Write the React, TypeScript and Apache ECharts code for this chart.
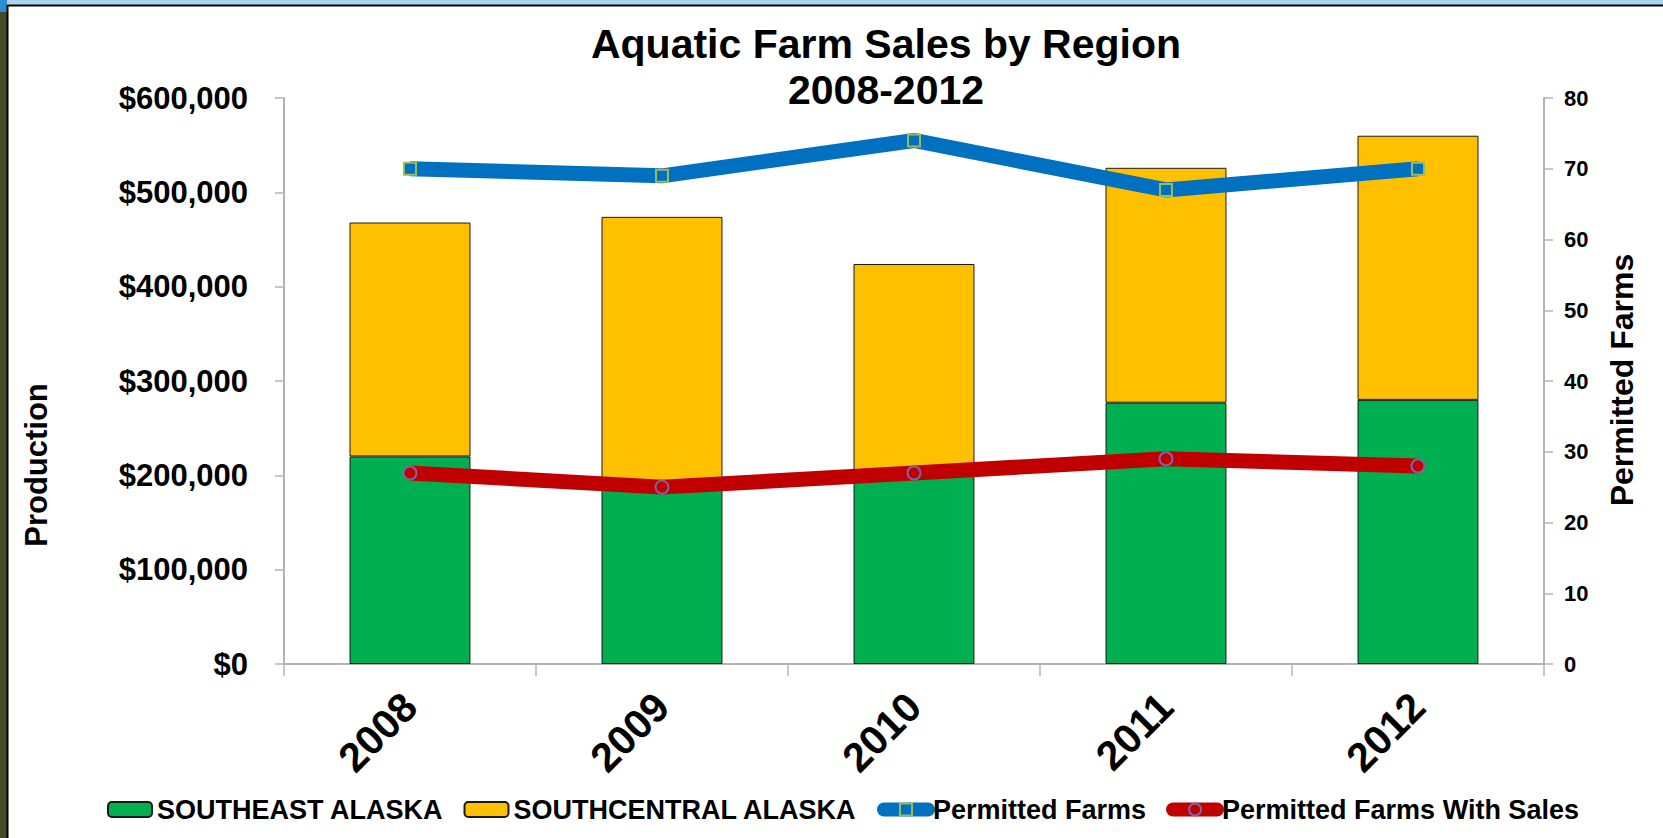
import React, { useEffect, useRef } from "react";
import * as echarts from "echarts";

const categories = ["2008", "2009", "2010", "2011", "2012"];
const southeastAlaska = [220000, 190000, 200000, 277000, 280000];
const southcentralAlaska = [248000, 284000, 224000, 249000, 280000];
const permittedFarms = [70, 69, 74, 67, 70];
const permittedFarmsWithSales = [27, 25, 27, 29, 28];

const FONT = "'Liberation Sans', Arial, sans-serif";

export default function App() {
  const ref = useRef<HTMLDivElement>(null);

  useEffect(() => {
    if (!ref.current) return;
    const chart = echarts.init(ref.current, null, { renderer: "svg" });
    const axisGray = "#b4b4b4";
    chart.setOption({
      animation: false,
      backgroundColor: "#ffffff",
      textStyle: { fontFamily: FONT },
      title: {
        text: "Aquatic Farm Sales by Region\n2008-2012",
        left: 886,
        top: 21,
        textAlign: "center",
        padding: 0,
        textStyle: {
          fontFamily: FONT,
          fontSize: 41,
          fontWeight: "bold",
          color: "#000",
          lineHeight: 46,
        },
      },
      legend: {
        left: 102,
        top: 791,
        itemWidth: 44,
        itemHeight: 15,
        itemGap: 20,
        textStyle: {
          fontFamily: FONT,
          fontSize: 27,
          fontWeight: "bold",
          color: "#000",
        },
        data: [
          { name: "SOUTHEAST ALASKA" },
          { name: "SOUTHCENTRAL ALASKA" },
          { name: "Permitted Farms", lineStyle: { width: 14, cap: "round" } },
          { name: "Permitted Farms With Sales", lineStyle: { width: 14, cap: "round" } },
        ],
      },
      grid: { left: 284, right: 119, top: 98, bottom: 174 },
      xAxis: {
        type: "category",
        data: categories,
        boundaryGap: true,
        axisLine: { lineStyle: { color: axisGray, width: 2 } },
        axisTick: { show: true, interval: 0, length: 12, lineStyle: { color: axisGray, width: 1.5 } },
        axisLabel: {
          rotate: 45,
          margin: 36,
          fontFamily: FONT,
          fontSize: 41,
          fontWeight: "bold",
          color: "#000",
        },
      },
      yAxis: [
        {
          type: "value",
          min: 0,
          max: 600000,
          interval: 100000,
          splitLine: { show: false },
          axisLine: { show: true, lineStyle: { color: axisGray, width: 2 } },
          axisTick: { show: true, length: 9, lineStyle: { color: axisGray, width: 1.5 } },
          axisLabel: {
            margin: 36,
            fontFamily: FONT,
            fontSize: 31,
            fontWeight: "bold",
            color: "#000",
            formatter: (v: number) => "$" + v.toLocaleString("en-US"),
          },
        },
        {
          type: "value",
          min: 0,
          max: 80,
          interval: 10,
          position: "right",
          splitLine: { show: false },
          axisLine: { show: true, lineStyle: { color: axisGray, width: 2 } },
          axisTick: { show: true, length: 9, lineStyle: { color: axisGray, width: 1.5 } },
          axisLabel: {
            margin: 20,
            fontFamily: FONT,
            fontSize: 22,
            fontWeight: "bold",
            color: "#000",
          },
        },
      ],
      series: [
        {
          name: "SOUTHEAST ALASKA",
          type: "bar",
          stack: "sales",
          barWidth: "48%",
          data: southeastAlaska,
          itemStyle: { color: "#00B050", borderColor: "#1a1a1a", borderWidth: 1 },
        },
        {
          name: "SOUTHCENTRAL ALASKA",
          type: "bar",
          stack: "sales",
          barWidth: "48%",
          data: southcentralAlaska,
          itemStyle: { color: "#FFC000", borderColor: "#1a1a1a", borderWidth: 1 },
        },
        {
          name: "Permitted Farms",
          type: "line",
          yAxisIndex: 1,
          data: permittedFarms,
          symbol: "rect",
          symbolSize: 12,
          lineStyle: { color: "#0070C0", width: 15 },
          itemStyle: { color: "#0070C0", borderColor: "#9BBB59", borderWidth: 2 },
          z: 5,
        },
        {
          name: "Permitted Farms With Sales",
          type: "line",
          yAxisIndex: 1,
          data: permittedFarmsWithSales,
          symbol: "circle",
          symbolSize: 13,
          lineStyle: { color: "#C00000", width: 15 },
          itemStyle: { color: "#C00000", borderColor: "#8064A2", borderWidth: 2 },
          z: 5,
        },
      ],
      graphic: [
        { type: "rect", shape: { x: 0, y: 0, width: 1663, height: 5 }, style: { fill: "#a9d4f0" }, z: 100 },
        { type: "rect", shape: { x: 0, y: 0, width: 7, height: 12 }, style: { fill: "#2a8fd0" }, z: 100 },
        { type: "rect", shape: { x: 0, y: 12, width: 7, height: 826 }, style: { fill: "#454c27" }, z: 100 },
        { type: "line", shape: { x1: 7, y1: 5.5, x2: 1663, y2: 5.5 }, style: { stroke: "#000", lineWidth: 2 }, z: 100 },
        { type: "line", shape: { x1: 7.5, y1: 5, x2: 7.5, y2: 838 }, style: { stroke: "#000", lineWidth: 2 }, z: 100 },
        {
          type: "text",
          x: 36,
          y: 465,
          rotation: Math.PI / 2,
          style: {
            text: "Production",
            fontFamily: FONT,
            fontSize: 31,
            fontWeight: "bold",
            fill: "#000",
            align: "center",
            verticalAlign: "middle",
          },
        },
        {
          type: "text",
          x: 1622,
          y: 380,
          rotation: Math.PI / 2,
          style: {
            text: "Permitted Farms",
            fontFamily: FONT,
            fontSize: 32,
            fontWeight: "bold",
            fill: "#000",
            align: "center",
            verticalAlign: "middle",
          },
        },
      ],
    });
    return () => chart.dispose();
  }, []);

  return (
    <div
      ref={ref}
      style={{ position: "fixed", left: 0, top: 0, width: 1663, height: 838, background: "#fff" }}
    />
  );
}
